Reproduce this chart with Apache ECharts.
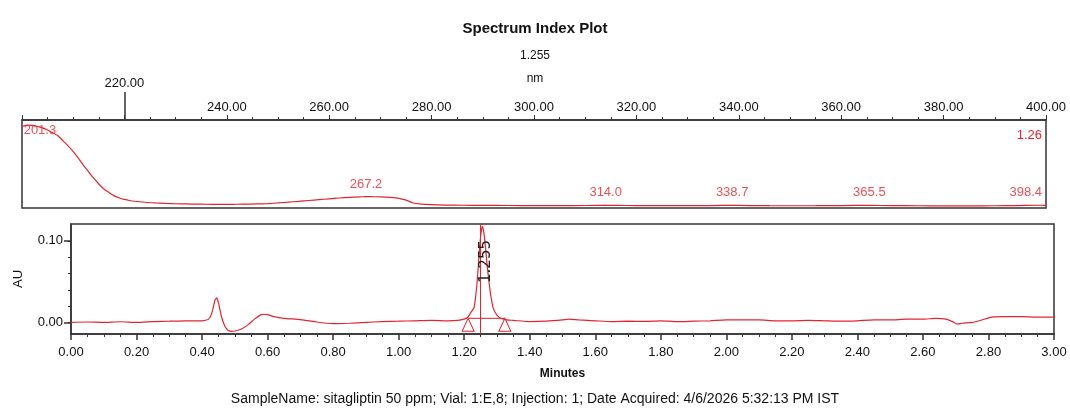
<!DOCTYPE html>
<html>
<head>
<meta charset="utf-8">
<script src="https://cdn.jsdelivr.net/npm/echarts@6/dist/echarts.min.js"></script>
<style>
  html, body { margin: 0; padding: 0; background: #fff; }
  #chart { width: 1070px; height: 410px; }
</style>
</head>
<body>
<div id="chart"></div>
<script>
// UV spectrum taken at the apex of the 1.255 min peak (nm, AU)
const spectrumNm = [
  200, 201.3, 202, 203, 204, 205, 206, 207, 208, 209, 210, 211, 212, 213, 214, 215,
  216, 217, 218, 219, 220, 221, 222, 224, 226, 228, 230, 232, 234, 236, 238, 240,
  242, 244, 246, 248, 250, 252, 254, 256, 258, 260, 262, 264, 266, 267.2, 268, 270,
  272, 273, 274, 275, 276.4, 278, 280, 283, 286, 290, 295, 300, 305, 310, 314.0, 318,
  322, 326, 330, 334, 338.7, 342, 346, 350, 355, 360, 365.5, 370, 375, 380, 385, 390,
  394, 398.4, 400
];
const spectrumAbs = [
  1.12, 1.14, 1.135, 1.12, 1.10, 1.07, 1.03, 0.99, 0.92, 0.85, 0.77, 0.68, 0.58, 0.49, 0.40, 0.32,
  0.25, 0.20, 0.155, 0.125, 0.105, 0.090, 0.080, 0.066, 0.057, 0.050, 0.045, 0.042, 0.040, 0.038, 0.037, 0.037,
  0.038, 0.040, 0.042, 0.048, 0.057, 0.068, 0.078, 0.090, 0.102, 0.114, 0.125, 0.134, 0.141, 0.145, 0.144, 0.140,
  0.133, 0.126, 0.112, 0.095, 0.056, 0.040, 0.032, 0.027, 0.024, 0.022, 0.021, 0.020, 0.020, 0.021, 0.023, 0.021,
  0.019, 0.018, 0.019, 0.020, 0.022, 0.020, 0.018, 0.017, 0.018, 0.020, 0.022, 0.019, 0.017, 0.016, 0.016, 0.017,
  0.019, 0.024, 0.022
];
// wavelength maxima reported on the spectrum
const lambdaMaxNm = [201.3, 267.2, 314.0, 338.7, 365.5, 398.4];
// extraction wavelength of the chromatogram
const channelNm = [220];

// chromatogram at 220 nm (minutes, AU)
const chromTime = [
  0.00, 0.05, 0.10, 0.15, 0.20, 0.25, 0.30, 0.35, 0.38, 0.40, 0.42, 0.43, 0.44, 0.445, 0.45, 0.46,
  0.47, 0.48, 0.49, 0.50, 0.52, 0.54, 0.56, 0.58, 0.59, 0.60, 0.62, 0.65, 0.70, 0.75, 0.78, 0.80,
  0.85, 0.90, 0.95, 1.00, 1.05, 1.10, 1.15, 1.18, 1.20, 1.21, 1.22, 1.23, 1.235, 1.24, 1.245, 1.25,
  1.255, 1.26, 1.265, 1.27, 1.275, 1.28, 1.285, 1.29, 1.30, 1.31, 1.32, 1.33, 1.35, 1.40, 1.45, 1.50,
  1.52, 1.55, 1.60, 1.65, 1.70, 1.75, 1.80, 1.85, 1.90, 1.95, 2.00, 2.05, 2.10, 2.15, 2.20, 2.25,
  2.30, 2.35, 2.40, 2.45, 2.50, 2.55, 2.60, 2.64, 2.67, 2.69, 2.705, 2.72, 2.75, 2.78, 2.81, 2.85,
  2.90, 2.95, 3.00
];
const chromAU = [
  0.000, 0.0005, 0.000, 0.0008, 0.000, 0.001, 0.0015, 0.002, 0.0018, 0.002, 0.004, 0.012, 0.028, 0.030, 0.024, 0.006,
  -0.005, -0.010, -0.011, -0.0105, -0.008, -0.003, 0.004, 0.0095, 0.010, 0.0095, 0.007, 0.005, 0.0035, 0.0005, -0.001, -0.0015,
  -0.001, 0.000, 0.001, 0.0015, 0.002, 0.0025, 0.002, 0.0025, 0.004, 0.006, 0.012, 0.018, 0.032, 0.052, 0.080, 0.105,
  0.118, 0.110, 0.092, 0.070, 0.052, 0.036, 0.024, 0.016, 0.009, 0.0055, 0.004, 0.003, 0.0025, 0.001, 0.0015, 0.003,
  0.004, 0.003, 0.002, 0.001, 0.0015, 0.0012, 0.002, 0.001, 0.0015, 0.002, 0.003, 0.003, 0.003, 0.002, 0.002, 0.0025,
  0.002, 0.0015, 0.002, 0.003, 0.003, 0.004, 0.004, 0.005, 0.004, 0.001, -0.002, -0.001, 0.000, 0.003, 0.0065, 0.007,
  0.007, 0.0065, 0.0065
];
// integrated peak: apex, start/end and the baseline drawn under it
const peakApexMin = [1.255];
const peakLimitsMin = [1.212, 1.324];
const peakBaselineAU = [0.005, 0.005];
// AU axis ticks
const auTickValues = [0, 0.02, 0.04, 0.06, 0.08, 0.10];
const auLabelValues = [0, 0.10];

const RED = '#e3242d';
const AXIS = '#333';
const FONT = "'Liberation Sans', Arial, sans-serif";

const zip = (xs, ys) => xs.map((x, i) => [x, ys[i]]);
const specLine = zip(spectrumNm, spectrumAbs);
const specMax = lambdaMaxNm.map(nm => {
  const pt = [nm, spectrumAbs[spectrumNm.indexOf(nm)]];
  if (nm === lambdaMaxNm[0]) {
    return { value: pt, label: { position: 'right', distance: 0, offset: [-5, 5] } };
  }
  if (nm === lambdaMaxNm[lambdaMaxNm.length - 1]) {
    return { value: pt, label: { offset: [-12, 0] } };
  }
  return { value: pt };
});

const chart = echarts.init(document.getElementById('chart'), null, { renderer: 'canvas' });

chart.setOption({
  animation: false,
  backgroundColor: '#fff',
  textStyle: { fontFamily: FONT },
  title: [
    { text: 'Spectrum Index Plot', left: 'center', top: 16,
      textStyle: { fontSize: 15, fontWeight: 'bold', color: '#111', fontFamily: FONT } },
    { text: '1.255', left: 'center', top: 45,
      textStyle: { fontSize: 12, fontWeight: 'normal', color: '#111', fontFamily: FONT } },
    { text: 'nm', left: 'center', top: 68,
      textStyle: { fontSize: 12, fontWeight: 'normal', color: '#111', fontFamily: FONT } },
    { text: '1.26', right: 23, top: 124,
      textStyle: { fontSize: 13, fontWeight: 'normal', color: RED, fontFamily: FONT } },
    { text: 'SampleName: sitagliptin 50 ppm; Vial: 1:E,8; Injection: 1; Date Acquired: 4/6/2026 5:32:13 PM IST',
      left: 'center', top: 387,
      textStyle: { fontSize: 14, fontWeight: 'normal', color: '#111', fontFamily: FONT } }
  ],
  grid: [
    { left: 22, right: 24, top: 120, height: 88, show: true, borderColor: AXIS, borderWidth: 1.5, containLabel: false },
    { left: 71, right: 16, top: 224, height: 110, show: true, borderColor: AXIS, borderWidth: 1.5, containLabel: false }
  ],
  xAxis: [
    { // wavelength axis above the spectrum
      type: 'value', gridIndex: 0, position: 'top', min: 200, max: 400, interval: 20,
      axisLine: { show: true, onZero: false, lineStyle: { color: AXIS, width: 1.5 } },
      axisTick: { show: true, inside: false, length: 5, lineStyle: { color: AXIS } },
      minorTick: { show: true, splitNumber: 4, length: 3, lineStyle: { color: AXIS } },
      splitLine: { show: false },
      axisLabel: { margin: 6, fontSize: 13, color: '#111',
        formatter: v => (v === 200 || channelNm.includes(v)) ? '' : v.toFixed(2) }
    },
    { // marker for the chromatogram channel wavelength
      type: 'value', gridIndex: 0, position: 'top', min: 200, max: 400,
      axisLine: { show: false, onZero: false },
      axisTick: { show: true, length: 28, customValues: channelNm, lineStyle: { color: AXIS, width: 1.5 } },
      splitLine: { show: false },
      axisLabel: { show: true, margin: 30, fontSize: 13, color: '#111', customValues: channelNm,
        formatter: v => v.toFixed(2) }
    },
    { // retention time axis
      type: 'value', gridIndex: 1, position: 'bottom', min: 0, max: 3, interval: 0.2,
      axisLine: { show: true, onZero: false, lineStyle: { color: AXIS, width: 1.5 } },
      axisTick: { show: true, length: 6, lineStyle: { color: AXIS, width: 1.5 } },
      minorTick: { show: true, splitNumber: 4, length: 3, lineStyle: { color: AXIS } },
      splitLine: { show: false },
      axisLabel: { margin: 12, fontSize: 13, color: '#111', formatter: v => v.toFixed(2) },
      name: 'Minutes', nameLocation: 'middle', nameGap: 34,
      nameTextStyle: { fontSize: 12, fontWeight: 'bold', color: '#111' }
    }
  ],
  yAxis: [
    { type: 'value', gridIndex: 0, min: -0.014, max: 1.21, show: false, position: 'left',
      axisLine: { onZero: false } },
    {
      type: 'value', gridIndex: 1, position: 'left', min: -0.0142, max: 0.1206,
      axisLine: { show: true, onZero: false, lineStyle: { color: AXIS, width: 1.5 } },
      axisTick: { show: true, length: 3, customValues: auTickValues, lineStyle: { color: AXIS } },
      splitLine: { show: false },
      axisLabel: { margin: 8, fontSize: 13, color: '#111', customValues: auLabelValues,
        formatter: v => v.toFixed(2) },
      name: 'AU', nameLocation: 'middle', nameRotate: 90, nameGap: 46,
      nameTextStyle: { fontSize: 13, color: '#111' }
    },
    { // longer ticks at the labelled values
      type: 'value', gridIndex: 1, position: 'left', min: -0.0142, max: 0.1206,
      axisLine: { show: false, onZero: false },
      axisTick: { show: true, length: 7, customValues: auLabelValues, lineStyle: { color: AXIS, width: 1.5 } },
      splitLine: { show: false },
      axisLabel: { show: false }
    }
  ],
  series: [
    {
      name: 'spectrum', type: 'line', xAxisIndex: 0, yAxisIndex: 0,
      data: specLine, showSymbol: false, smooth: 0.3,
      lineStyle: { color: RED, width: 1.2 }, silent: true
    },
    {
      name: 'lambda max', type: 'scatter', xAxisIndex: 0, yAxisIndex: 0,
      data: specMax, symbolSize: 0, silent: true,
      label: { show: true, position: 'top', distance: 6, fontSize: 13, color: RED,
        formatter: p => p.value[0].toFixed(1) }
    },
    {
      name: 'chromatogram', type: 'line', xAxisIndex: 2, yAxisIndex: 1,
      data: zip(chromTime, chromAU), showSymbol: false, smooth: 0.2,
      lineStyle: { color: RED, width: 1.2 }, silent: true,
      markLine: {
        silent: true, symbol: 'none', animation: false,
        lineStyle: { color: RED, width: 1, type: 'solid' },
        label: { show: true, position: 'insideEndBottom', distance: [16, -2], fontSize: 15, color: '#222',
          fontFamily: "'DejaVu Sans', sans-serif", formatter: '{b}' },
        data: peakApexMin.map(t => ({ xAxis: t, name: t.toFixed(3) }))
      }
    },
    {
      name: 'peak baseline', type: 'line', xAxisIndex: 2, yAxisIndex: 1,
      data: zip(peakLimitsMin, peakBaselineAU), showSymbol: true,
      symbol: 'triangle', symbolSize: [12, 13], symbolOffset: [0, '50%'],
      itemStyle: { color: 'rgba(255,255,255,0)', borderColor: RED, borderWidth: 1 },
      lineStyle: { color: RED, width: 1 }, silent: true
    }
  ]
});
</script>
</body>
</html>
